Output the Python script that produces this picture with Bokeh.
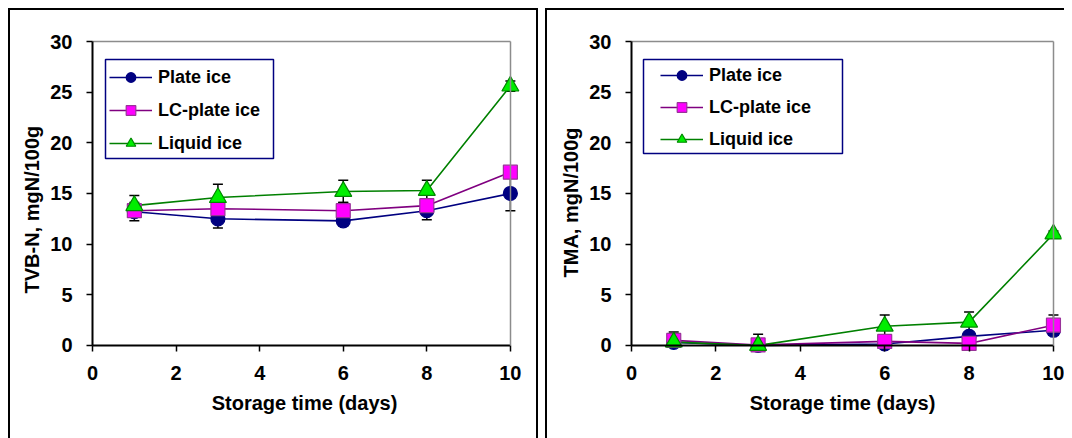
from bokeh.plotting import figure
from bokeh.models import (Range1d, LinearAxis, Legend, LegendItem, FixedTicker,
                          ColumnDataSource, Title, BoxAnnotation)
from bokeh.layouts import row
from bokeh.embed import file_html
from bokeh.resources import INLINE

# ---------------- data ----------------
days = [1, 3, 6, 8, 10]
series_names = ["Plate ice", "LC-plate ice", "Liquid ice"]

tvbn_plate = [13.2, 12.5, 12.3, 13.3, 15.0]
tvbn_plate_err = [0.9, 0.9, 0.5, 0.9, 1.7]
tvbn_lc = [13.3, 13.5, 13.3, 13.8, 17.1]
tvbn_lc_err = [0.5, 0.5, 0.8, 0.5, 0.5]
tvbn_liquid = [13.8, 14.6, 15.2, 15.3, 25.6]
tvbn_liquid_err = [1.0, 1.3, 1.1, 1.0, 0.5]

tma_plate = [0.3, 0.0, 0.15, 0.9, 1.5]
tma_plate_err = [0.3, 0.3, 0.2, 0.4, 0.5]
tma_lc = [0.5, 0.05, 0.4, 0.2, 2.0]
tma_lc_err = [0.5, 0.5, 0.3, 0.3, 1.0]
tma_liquid = [0.33, 0.0, 1.9, 2.3, 11.0]
tma_liquid_err = [1.0, 1.1, 1.1, 1.0, 0.3]

x_ticks = [0, 2, 4, 6, 8, 10]
y_ticks = [0, 5, 10, 15, 20, 25, 30]

x_title = "Storage time (days)"
y_title_left = "TVB-N, mgN/100g"
y_title_right = "TMA, mgN/100g"

# ---------------- styles ----------------
FONT = "Liberation Sans"
STYLES = [
    dict(line="#000080", fill="#000080", mline="#000080", marker="circle", size=14),
    dict(line="#800080", fill="#FF00FF", mline="#993399", marker="square", size=14),
    dict(line="#008000", fill="#00EE00", mline="#008800", marker="triangle", size=17),
]

PPU_Y = 302 / 30.0      # px per y unit
PAD_L, PAD_B, PAD_T = 8, 8, 4


def text_axis(ax, size="20px"):
    ax.major_label_text_font = FONT
    ax.major_label_text_font_style = "bold"
    ax.major_label_text_font_size = size
    ax.major_label_text_color = "black"
    ax.axis_label_text_font = FONT
    ax.axis_label_text_font_style = "bold"
    ax.axis_label_text_font_size = size
    ax.axis_label_text_color = "black"


def line_axis(ax, color, width, tick_out):
    ax.axis_line_color = color
    ax.axis_line_width = width
    ax.major_tick_line_color = color if tick_out else None
    ax.major_tick_line_width = 1.5
    ax.major_tick_in = 0
    ax.major_tick_out = tick_out
    ax.minor_tick_line_color = None
    ax.major_label_text_color = None
    ax.axis_label = None


def make_panel(ytitle, ytitle_offset, values, errors, ppu_x, pad_r, border_left,
               border_right, legend_loc, legend_spacing, box, css):
    x_start = -PAD_L / ppu_x
    x_end = 10 + pad_r / ppu_x
    y_start = -PAD_B / PPU_Y
    y_end = 30 + PAD_T / PPU_Y
    fw = PAD_L + int(round(10 * ppu_x)) + pad_r
    fh = PAD_B + 302 + PAD_T
    p = figure(frame_width=fw, frame_height=fh,
               x_range=Range1d(x_start, x_end), y_range=Range1d(y_start, y_end),
               output_backend="svg", toolbar_location=None,
               x_axis_location=None, y_axis_location=None,
               min_border_left=border_left, min_border_right=border_right,
               min_border_top=27, min_border_bottom=87)
    p.grid.visible = False
    p.outline_line_color = None
    p.background_fill_color = "white"
    p.border_fill_color = "white"
    p.styles = css

    # label-only axes (outside the frame)
    yl = LinearAxis(ticker=FixedTicker(ticks=y_ticks))
    xl = LinearAxis(ticker=FixedTicker(ticks=x_ticks), axis_label=x_title)
    for ax in (yl, xl):
        ax.axis_line_color = None
        ax.major_tick_line_color = None
        ax.major_tick_in = 0
        ax.major_tick_out = 0
        ax.minor_tick_line_color = None
        text_axis(ax)
    yl.major_label_standoff = 12
    xl.major_label_standoff = 12
    xl.axis_label_standoff = 9
    p.add_layout(yl, "left")
    p.add_layout(xl, "below")

    # vertical axis title
    yt = Title(text=ytitle, align="left", offset=ytitle_offset, standoff=10,
               text_font=FONT, text_font_style="bold", text_font_size="20px",
               text_color="black")
    p.add_layout(yt, "left")

    # axis lines and ticks (inside the frame, at fixed data positions)
    yline = LinearAxis(ticker=FixedTicker(ticks=y_ticks), bounds=(0, 30), fixed_location=0)
    xline = LinearAxis(ticker=FixedTicker(ticks=x_ticks), bounds=(0, 10), fixed_location=0)
    line_axis(yline, "black", 2, 6)
    line_axis(xline, "black", 2, 6)
    top = LinearAxis(ticker=FixedTicker(ticks=[]), bounds=(0, 10), fixed_location=30)
    right = LinearAxis(ticker=FixedTicker(ticks=[]), bounds=(0, 30), fixed_location=10)
    line_axis(top, "#8C8C8C", 1.5, 0)
    line_axis(right, "#8C8C8C", 1.5, 0)
    p.add_layout(top, "above")
    p.add_layout(right, "right")

    # error bars (drawn first, under the markers)
    for vals, errs in zip(values, errors):
        lo = [max(v - e, 0) for v, e in zip(vals, errs)]
        hi = [v + e for v, e in zip(vals, errs)]
        p.segment(x0=days, y0=lo, x1=days, y1=hi, line_color="black", line_width=1.5)
        p.scatter(x=days, y=hi, marker="dash", size=10, line_color="black", line_width=1.5)
        lo_caps = [(d, l) for d, l, v in zip(days, lo, vals) if l < v]
        p.scatter(x=[c[0] for c in lo_caps], y=[c[1] for c in lo_caps], marker="dash",
                  size=10, line_color="black", line_width=1.5)

    line_rs = []
    for name, vals, st in zip(series_names, values, STYLES):
        src = ColumnDataSource(dict(x=days, y=vals))
        lr = p.line("x", "y", source=src, line_color=st["line"], line_width=1.6)
        line_rs.append((name, lr, src, st))

    # black axis lines drawn over the series lines
    p.add_layout(yline, "left")
    p.add_layout(xline, "below")

    items = []
    for name, lr, src, st in line_rs:
        mr = p.scatter("x", "y", source=src, marker=st["marker"], size=st["size"],
                       fill_color=st["fill"], line_color=st["mline"], line_width=1.2)
        items.append(LegendItem(label=name, renderers=[lr, mr]))

    # legend frame (screen units, relative to the plot frame's bottom-left)
    bl, br, bb, bt = box
    p.add_layout(BoxAnnotation(left=bl, right=br, bottom=bb, top=bt,
                               left_units="screen", right_units="screen",
                               bottom_units="screen", top_units="screen",
                               fill_color="white", fill_alpha=1,
                               line_color="#000080", line_width=1.5, line_alpha=1))

    leg = Legend(items=items, location=legend_loc)
    leg.border_line_color = None
    leg.background_fill_alpha = 0
    leg.label_text_font = FONT
    leg.label_text_font_style = "bold"
    leg.label_text_font_size = "18px"
    leg.label_text_color = "black"
    leg.glyph_width = 43
    leg.glyph_height = 24
    leg.label_height = 24
    leg.label_standoff = 6
    leg.spacing = legend_spacing
    leg.padding = 6
    leg.margin = 0
    p.add_layout(leg, "center")
    return p


# panel 1: x=0 at page x 92, x=10 at 506; frame from 84 to 520
p1 = make_panel(y_title_left, 60,
                [tvbn_plate, tvbn_lc, tvbn_liquid],
                [tvbn_plate_err, tvbn_lc_err, tvbn_liquid_err],
                ppu_x=41.4, pad_r=14, border_left=74, border_right=16,
                legend_loc=(25, 198), legend_spacing=9,
                box=(21, 189, 195, 294),
                css={"border-top": "2px solid black", "border-left": "2px solid black",
                     "border-right": "2px solid black"})
# panel 2: x=0 at page x 631, x=10 at 1051; frame from 623 to 1059
p2 = make_panel(y_title_right, 76,
                [tma_plate, tma_lc, tma_liquid],
                [tma_plate_err, tma_lc_err, tma_liquid_err],
                ppu_x=42.0, pad_r=8, border_left=76, border_right=5,
                legend_loc=(37, 202), legend_spacing=8,
                box=(20, 219, 200, 294),
                css={"border-top": "2px solid black", "border-left": "2px solid black"})

layout = row(p1, p2, spacing=7, margin=(8, 0, 0, 8))
open("out.html", "w").write(file_html(layout, INLINE))
